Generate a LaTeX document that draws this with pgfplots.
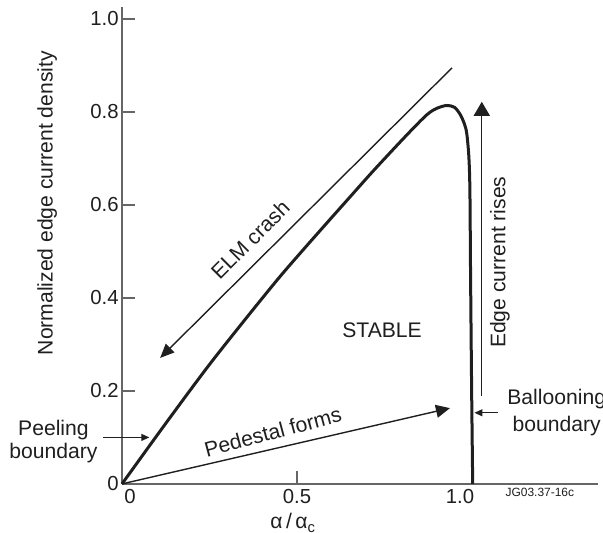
\documentclass[border=0pt]{standalone}
\usepackage{fontspec}
\setmainfont{Liberation Sans}
\usepackage{pgfplots}
\pgfplotsset{compat=1.18}
\usetikzlibrary{arrows.meta}

\definecolor{ink}{gray}{0.12}
\definecolor{axisgray}{gray}{0.4}

\begin{document}
\begin{tikzpicture}
\begin{axis}[
  scale only axis, width=238bp, height=238.5bp,
  xmin=0, xmax=1.36, ymin=0, ymax=1.026,
  axis x line=bottom, axis y line=left,
  axis line style={-, draw=axisgray, line width=0.6bp},
  tick style={draw=axisgray, line width=0.6bp},
  major tick length=6.5bp,
  tick align=inside,
  xtick={0,0.5,1}, xticklabels={\hspace*{8bp}0,0.5,1.0\hspace*{12bp}},
  ytick={0,0.2,0.4,0.6,0.8,1.0}, yticklabels={0,0.2,0.4,0.6,0.8,1.0},
  ticklabel style={font=\fontsize{10.2}{12}\selectfont, text=ink},
  yticklabel style={inner sep=1.5bp},
  xticklabel style={inner sep=2.5bp},
  /pgf/number format/assume math mode=true,
  clip=false,
]
% stability boundary (peeling branch rising, ballooning branch dropping)
\addplot[ink, line width=1.5bp, smooth, tension=0.5] coordinates {
  (0,0) (0.12,0.125) (0.243,0.250) (0.35,0.352) (0.447,0.442)
  (0.517,0.503) (0.585,0.561) (0.65,0.616) (0.72,0.675) (0.813,0.750)
  (0.871,0.794) (0.90,0.808) (0.928,0.814) (0.95,0.810) (0.966,0.795)
  (0.978,0.775) (0.985,0.754) (0.991,0.704) (0.994,0.632) (0.996,0.442)
  (0.999,0.2) (1.002,0)
};
% ELM crash
\addplot[ink, line width=0.7bp, -{Triangle[length=7bp,width=6bp]}] coordinates {(0.943,0.895) (0.109,0.271)};
% pedestal forms
\addplot[ink, line width=0.7bp, -{Triangle[length=7bp,width=6.5bp]}] coordinates {(0,0) (0.937,0.163)};
% edge current rises
\addplot[ink, line width=0.7bp, -{Triangle[length=7bp,width=8bp]}] coordinates {(1.028,0.19) (1.028,0.822)};
% peeling boundary pointer
\addplot[ink, line width=0.6bp, -{Triangle[length=4bp,width=3.5bp]}] coordinates {(-0.054,0.10) (0.078,0.10)};
% ballooning boundary pointer
\addplot[ink, line width=0.6bp, -{Triangle[length=4bp,width=3.5bp]}] coordinates {(1.074,0.153) (1.007,0.153)};

\begin{scope}[every node/.style={text=ink, font=\fontsize{10.6}{12.5}\selectfont}]
\node[rotate=90] at (axis cs:-0.214,0.604) {Normalized edge current density};
\node at (axis cs:0.489,-0.084) {α\,/\,α\textsubscript{c}};
\node[rotate=45] at (axis cs:0.366,0.525) {ELM crash};
\node[rotate=15] at (axis cs:0.431,0.112) {Pedestal forms};
\node at (axis cs:0.743,0.331) {STABLE};
\node[rotate=90] at (axis cs:1.08,0.477) {Edge current rises};
\node[anchor=east, inner sep=0pt, align=center, font=\fontsize{10.6}{11.5}\selectfont] at (axis cs:-0.069,0.0914) {Peeling\\boundary};
\node[anchor=west, inner sep=0pt, align=center, font=\fontsize{10.6}{13.5}\selectfont] at (axis cs:1.1,0.153) {Ballooning\\boundary};
\node[font=\fontsize{6}{7}\selectfont] at (axis cs:1.194,-0.019) {JG03.37-16c};
\end{scope}

\coordinate (bbll) at (axis cs:-0.3486,-0.1054);
\coordinate (bbur) at (axis cs:1.3743,1.0409);
\end{axis}
\pgfresetboundingbox
\useasboundingbox (bbll) rectangle (bbur);
\end{tikzpicture}
\end{document}
